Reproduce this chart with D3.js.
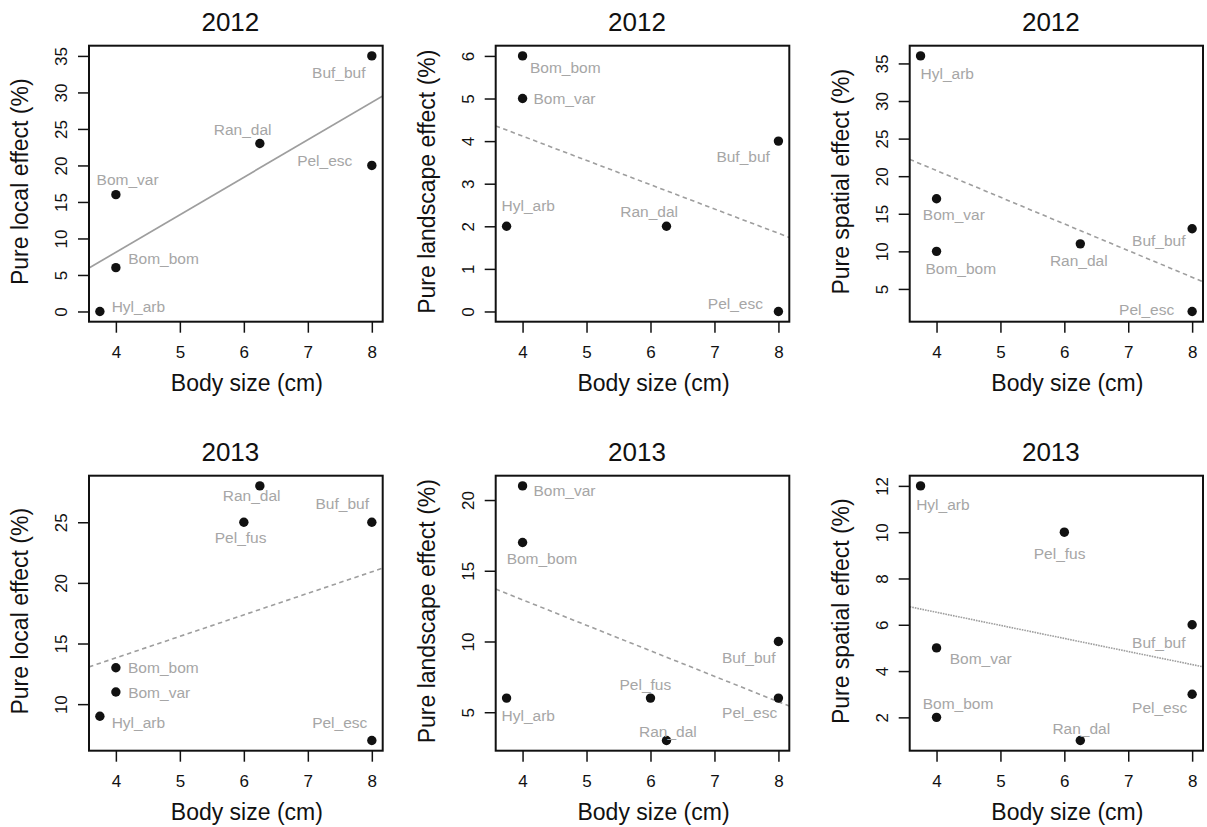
<!DOCTYPE html>
<html>
<head>
<meta charset="utf-8">
<script src="https://cdn.jsdelivr.net/npm/d3@7"></script>
<style>
  html, body { margin: 0; padding: 0; background: #fff; }
  svg { display: block; font-family: "Liberation Sans", Arial, Helvetica, sans-serif; }
</style>
</head>
<body>
<svg id="chart" width="1207" height="827"></svg>
<script>
// ---------------- data ----------------
const species2012 = ["Hyl_arb", "Bom_bom", "Bom_var", "Ran_dal", "Pel_esc", "Buf_buf"];
const bodySize2012 = [3.75, 4, 4, 6.25, 8, 8];
const local2012 = [0, 6, 16, 23, 20, 35];
const landscape2012 = [2, 6, 5, 2, 0, 4];
const spatial2012 = [36, 10, 17, 11, 2, 13];

const species2013 = ["Hyl_arb", "Bom_bom", "Bom_var", "Pel_fus", "Ran_dal", "Pel_esc", "Buf_buf"];
const bodySize2013 = [3.75, 4, 4, 6, 6.25, 8, 8];
const local2013 = [9, 13, 11, 25, 28, 7, 25];
const landscape2013 = [6, 17, 21, 6, 3, 6, 10];
const spatial2013 = [12, 2, 5, 10, 1, 3, 6];

const xTicks = [4, 5, 6, 7, 8];
const localTicks2012 = [0, 5, 10, 15, 20, 25, 30, 35];
const landscapeTicks2012 = [0, 1, 2, 3, 4, 5, 6];
const spatialTicks2012 = [5, 10, 15, 20, 25, 30, 35];
const localTicks2013 = [10, 15, 20, 25];
const landscapeTicks2013 = [5, 10, 15, 20];
const spatialTicks2013 = [2, 4, 6, 8, 10, 12];

const yLabels = ["Pure local effect (%)", "Pure landscape effect (%)", "Pure spatial effect (%)"];
const xLabel = "Body size (cm)";
const years = ["2012", "2013"];

// label offsets (px, relative to point) for species names
const labelOffLocal2012 = [[38.5,-5],[47.7,-9.2],[11.7,-15.4],[-17.2,-14.4],[-47.1,-5.2],[-33,16.2]];
const labelOffLandscape2012 = [[21.7,-20.3],[42.7,11.2],[41.9,-0.5],[-17.4,-14.6],[-43,-7.9],[-35.3,15.3]];
const labelOffSpatial2012 = [[26.7,17.4],[24.3,17.2],[17.3,15.5],[-1.5,16.7],[-45.5,-2],[-33.3,12.2]];
const labelOffLocal2013 = [[38.5,6.6],[47.5,0],[43.3,0],[-3.2,15.5],[-8.2,9.4],[-32.1,-17.7],[-29.6,-18.5]];
const labelOffLandscape2013 = [[21.7,17.3],[19.4,16.3],[41.9,4.6],[-5.1,-13.5],[1.4,-9.4],[-28.8,14],[-29.7,16.2]];
const labelOffSpatial2013 = [[22.3,18.8],[21.5,-14.3],[44.2,10.2],[-4.7,21.8],[1,-12.5],[-32.5,13.7],[-33.3,17.5]];

// ---------------- layout ----------------
const svg = d3.select("#chart");
const cols = [[89, 382.7], [495.7, 789.3], [909.7, 1203]];
const rows = [[45.7, 321.7], [475.7, 750.7]];
const lineStyles = [
  [null, "4.5,3.5", "4.5,3.5"],
  ["4.5,3.5", "4.5,3.5", "1.6,1"]
];

const panels = [
  {r:0, c:0, sp:species2012, x:bodySize2012, y:local2012, ticks:localTicks2012, off:labelOffLocal2012},
  {r:0, c:1, sp:species2012, x:bodySize2012, y:landscape2012, ticks:landscapeTicks2012, off:labelOffLandscape2012},
  {r:0, c:2, sp:species2012, x:bodySize2012, y:spatial2012, ticks:spatialTicks2012, off:labelOffSpatial2012},
  {r:1, c:0, sp:species2013, x:bodySize2013, y:local2013, ticks:localTicks2013, off:labelOffLocal2013},
  {r:1, c:1, sp:species2013, x:bodySize2013, y:landscape2013, ticks:landscapeTicks2013, off:labelOffLandscape2013},
  {r:1, c:2, sp:species2013, x:bodySize2013, y:spatial2013, ticks:spatialTicks2013, off:labelOffSpatial2013}
];

function padded(ext) {
  const d = (ext[1] - ext[0]) * 0.04;
  return [ext[0] - d, ext[1] + d];
}

panels.forEach((p, i) => {
  const [L, R] = cols[p.c];
  const [T, B] = rows[p.r];
  const xs = d3.scaleLinear().domain(padded(d3.extent(p.x))).range([L, R]);
  const ys = d3.scaleLinear().domain(padded(d3.extent(p.y))).range([B, T]);
  const g = svg.append("g");

  const clipId = "clip" + i;
  svg.append("clipPath").attr("id", clipId)
    .append("rect").attr("x", L).attr("y", T).attr("width", R - L).attr("height", B - T);

  // regression line (least squares)
  const mx = d3.mean(p.x), my = d3.mean(p.y);
  const sxy = d3.sum(p.x, (v, k) => (v - mx) * (p.y[k] - my));
  const sxx = d3.sum(p.x, v => (v - mx) * (v - mx));
  const slope = sxy / sxx, icpt = my - slope * mx;
  const xd = xs.domain();
  const ls = lineStyles[p.r][p.c];
  g.append("line")
    .attr("clip-path", `url(#${clipId})`)
    .attr("x1", xs(xd[0])).attr("y1", ys(icpt + slope * xd[0]))
    .attr("x2", xs(xd[1])).attr("y2", ys(icpt + slope * xd[1]))
    .attr("stroke", "#9e9e9e")
    .attr("stroke-width", ls ? 1.6 : 1.7)
    .attr("stroke-dasharray", ls);

  // axes
  const xAxis = d3.axisBottom(xs).tickValues(xTicks).tickSize(11).tickPadding(0).tickFormat(d3.format("d"));
  const gx = g.append("g").attr("transform", `translate(0,${B})`).call(xAxis);
  gx.select(".domain").remove();
  gx.selectAll(".tick line").attr("stroke", "#111").attr("stroke-width", 1.5);
  gx.selectAll(".tick text").attr("y", 36).attr("dy", null)
    .attr("font-size", 17).attr("fill", "#111").attr("font-family", null);

  const yAxis = d3.axisLeft(ys).tickValues(p.ticks).tickSize(11).tickFormat(d3.format("d"));
  const gy = g.append("g").attr("transform", `translate(${L},0)`).call(yAxis);
  gy.select(".domain").remove();
  gy.selectAll(".tick line").attr("stroke", "#111").attr("stroke-width", 1.5);
  gy.selectAll(".tick text")
    .attr("x", null).attr("dy", null)
    .attr("text-anchor", "middle")
    .attr("transform", "translate(-22,0) rotate(-90)")
    .attr("font-size", 17).attr("fill", "#111").attr("font-family", null);
  g.selectAll(".tick text").attr("font-family", null);
  gx.attr("font-family", null); gy.attr("font-family", null);

  // box
  g.append("rect").attr("x", L).attr("y", T).attr("width", R - L).attr("height", B - T)
    .attr("fill", "none").attr("stroke", "#111").attr("stroke-width", 2);

  // points
  g.selectAll("circle.pt").data(p.x).join("circle")
    .attr("class", "pt")
    .attr("cx", (d) => xs(d))
    .attr("cy", (d, k) => ys(p.y[k]))
    .attr("r", 4.7)
    .attr("fill", "#111");

  // species labels
  g.selectAll("text.sp").data(p.sp).join("text")
    .attr("class", "sp")
    .attr("x", (d, k) => xs(p.x[k]) + p.off[k][0])
    .attr("y", (d, k) => ys(p.y[k]) + p.off[k][1] + 5.5)
    .attr("text-anchor", "middle")
    .attr("font-size", 15.5)
    .attr("fill", "#a6a6a6")
    .text(d => d);

  // title
  g.append("text").attr("x", (L + R) / 2 - 5.5).attr("y", T - 15)
    .attr("text-anchor", "middle").attr("font-size", 26).attr("fill", "#111")
    .text(years[p.r]);

  // x label
  g.append("text").attr("x", (L + R) / 2 + 11).attr("y", B + 69.5)
    .attr("text-anchor", "middle").attr("font-size", 23).attr("fill", "#111")
    .text(xLabel);

  // y label
  g.append("text")
    .attr("transform", `translate(${L - 61},${(T + B) / 2 - 2}) rotate(-90)`)
    .attr("text-anchor", "middle").attr("font-size", 23).attr("fill", "#111")
    .text(yLabels[p.c]);
});
</script>
</body>
</html>
